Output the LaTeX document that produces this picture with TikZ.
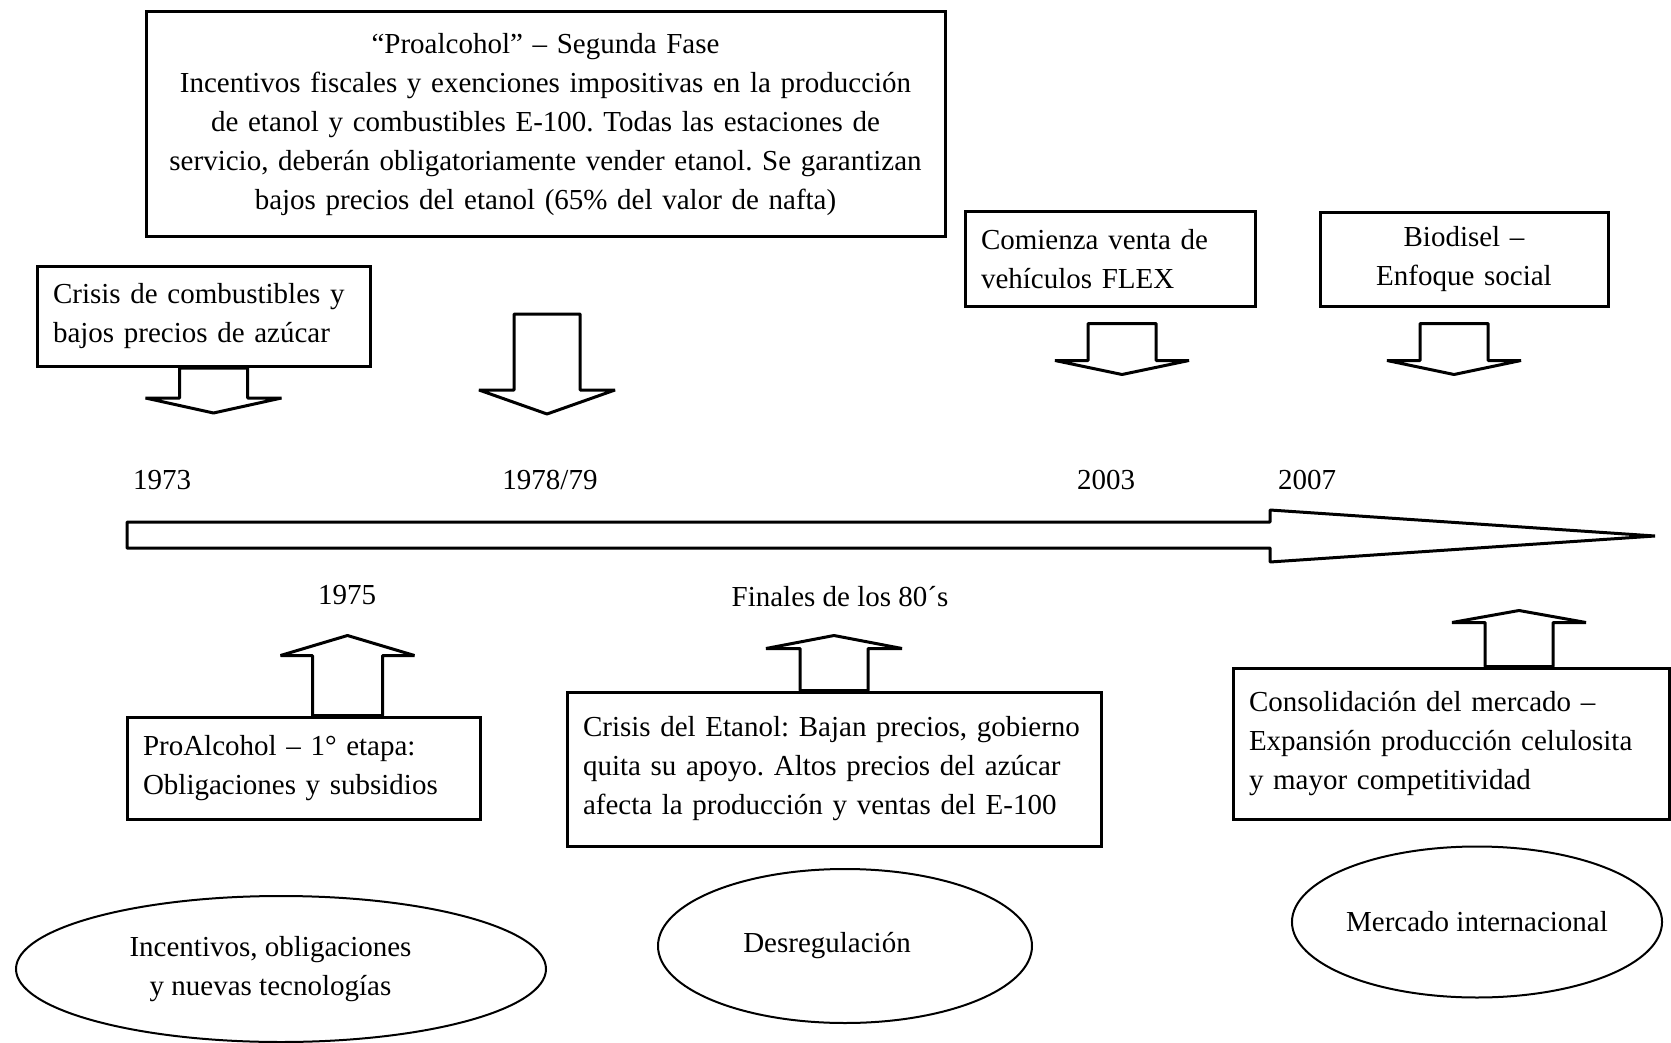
\documentclass[tikz,border=0pt]{standalone}
\usepackage{fontspec}
\setmainfont{Liberation Serif}
\usetikzlibrary{shapes.geometric}
\newcommand{\texto}{\fontsize{29}{39}\selectfont\frenchspacing\hyphenpenalty=10000 }
% flecha de bloque: origen, medio ancho del cuerpo, medio ancho de la punta,
% altura del cuerpo, altura de la punta
\newcommand{\flechab}[5]{%
  \draw[flecha, shift={#1}] (-#2,0) -- (#2,0) -- (#2,#4) -- (#3,#4)
    -- (0,#5) -- (-#3,#4) -- (-#2,#4) -- cycle;}
\tikzset{
  caja/.style={draw, line width=3pt, inner xsep=16pt, inner ysep=0pt,
    align=left, font=\texto},
  etapa/.style={draw, ellipse, line width=2pt, inner sep=0pt,
    align=center, font=\texto},
  anio/.style={font=\texto, inner sep=0pt},
  flecha/.style={draw, line width=3pt, fill=white, line join=bevel},
}
\begin{document}
\begin{tikzpicture}[x=1pt,y=-1pt]
    \useasboundingbox (0,0) rectangle (1671,1043);
    % linea de tiempo
    \draw[flecha] (127,522) -- (1270,522) -- (1270,510) -- (1655,536)
        -- (1270,562) -- (1270,548) -- (127,548) -- cycle;
    \node[anio] (a73) at (162,480) {1973};
    \node[anio] (a79) at (550,480) {1978/79};
    \node[anio] (a03) at (1106,480) {2003};
    \node[anio] (a07) at (1307,480) {2007};
    \node[anio] (a75) at (347,595) {1975};
    \node[anio] (a80) at (840,597) {Finales de los 80´s};
    % arriba
    \node[caja, align=center, text width=767pt, minimum height=225pt] (fase2)
        at (545.5,124.5) {“Proalcohol” – Segunda Fase\\
        Incentivos fiscales y exenciones impositivas en la producción\\
        de etanol y combustibles E-100. Todas las estaciones de\\
        \mbox{servicio, deberán obligatoriamente vender etanol. Se garantizan}\\
        bajos precios del etanol (65\% del valor de nafta)};
    \node[caja, text width=301pt, minimum height=100pt] (crisis)
        at (203.5,316.5) {Crisis de combustibles y\\ bajos precios de azúcar};
    \node[caja, text width=258pt, minimum height=94pt] (flex)
        at (1110,259) {Comienza venta de\\ vehículos FLEX};
    \node[caja, align=center, text width=256pt, minimum height=93pt] (biodisel)
        at (1464,259.5) {Biodisel –\\ Enfoque social};
    \coordinate (f79) at (547,314);
    \flechab{([xshift=10pt]crisis.south)}{34}{68}{30}{45}
    \flechab{(f79)}{33}{68}{76}{100}
    \flechab{([xshift=12pt,yshift=-16pt]flex.south)}{34}{67}{37}{51}
    \flechab{([xshift=-10pt,yshift=-16pt]biodisel.south)}{34}{67}{37}{51}
    % abajo
    \node[caja, text width=321pt, minimum height=102pt] (etapa1)
        at (303.5,768) {ProAlcohol – 1° etapa:\\ Obligaciones y subsidios};
    \node[caja, text width=502pt, minimum height=154pt] (crisiset)
        at (834,769) {\mbox{Crisis del Etanol: Bajan precios, gobierno}\\
        quita su apoyo. Altos precios del azúcar\\
        afecta la producción y ventas del E-100};
    \node[caja, text width=404pt, minimum height=151pt] (consol)
        at (1451,743.5) {Consolidación del mercado –\\
        Expansión producción celulosita\\ y mayor competitividad};
    \flechab{([xshift=44pt]etapa1.north)}{35}{67}{-60}{-80}
    \flechab{(crisiset.north)}{34}{68}{-42}{-55}
    \flechab{([xshift=68pt]consol.north)}{34}{67}{-44}{-56}
    % etapas
    \node[etapa, minimum width=530pt, minimum height=146pt] (e1)
        at (281,969) {Incentivos, obligaciones\hspace*{21pt}\\
        y nuevas tecnologías\hspace*{21pt}};
    \node[etapa, minimum width=374pt, minimum height=154pt] (e2)
        at (845,946) {Desregulación\hspace*{36pt}};
    \node[etapa, minimum width=358pt, minimum height=151pt] (e3)
        at (1477,922) {Mercado internacional};
\end{tikzpicture}
\end{document}
